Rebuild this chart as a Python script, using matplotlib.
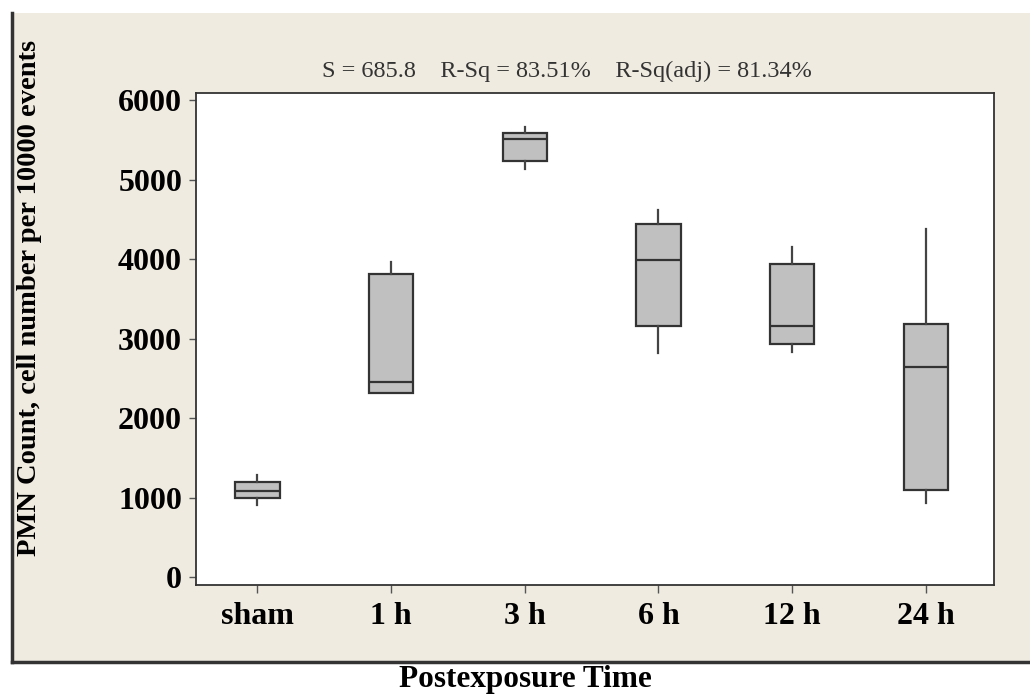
import matplotlib
matplotlib.use('Agg')
import matplotlib.pyplot as plt
from matplotlib.patches import Rectangle

# groups and five-number summaries
groups = ['sham', '1 h', '3 h', '6 h', '12 h', '24 h']
whisk_low = [906, 2314, 5132, 2818, 2830, 931]
q1 = [990, 2314, 5233, 3157, 2931, 1094]
median = [1082, 2453, 5509, 3987, 3157, 2642]
q3 = [1195, 3811, 5585, 4440, 3937, 3182]
whisk_high = [1283, 3962, 5660, 4616, 4151, 4377]

stats_text = 'S = 685.8    R-Sq = 83.51%    R-Sq(adj) = 81.34%'

plt.rcParams['font.family'] = ['Liberation Serif', 'DejaVu Serif']

fig = plt.figure(figsize=(10.30, 6.98), dpi=100)
fig.patch.set_facecolor('white')

# beige panel behind the plot with dark left/bottom border
W, H = 1030, 698
fig.add_artist(Rectangle((12 / W, 1 - 662 / H), 1 - 12 / W, (662 - 13) / H,
                         transform=fig.transFigure, facecolor='#efebe1',
                         edgecolor='none', zorder=-5))
fig.add_artist(plt.Line2D([12 / W, 12 / W], [1 - 662 / H, 1 - 13 / H],
                          transform=fig.transFigure, color='#333333', lw=2.5,
                          zorder=-4))
fig.add_artist(plt.Line2D([12 / W, 1], [1 - 662 / H, 1 - 662 / H],
                          transform=fig.transFigure, color='#333333', lw=2.5,
                          zorder=-4))

ax = fig.add_axes([196 / W, 1 - 585 / H, 798 / W, (585 - 93) / H])
ax.set_facecolor('white')

bstats = []
for i in range(len(groups)):
    bstats.append({'label': groups[i], 'whislo': whisk_low[i], 'q1': q1[i],
                   'med': median[i], 'q3': q3[i], 'whishi': whisk_high[i],
                   'fliers': []})

pos = list(range(1, len(groups) + 1))
ax.bxp(bstats, positions=pos, widths=0.33, showcaps=False, showfliers=False,
       patch_artist=True,
       boxprops=dict(facecolor='#c0c0c0', edgecolor='#333333', linewidth=1.6),
       medianprops=dict(color='#333333', linewidth=1.6),
       whiskerprops=dict(color='#444444', linewidth=1.6))

ax.set_xlim(0.54, 6.51)
ax.set_ylim(-100, 6090)
ax.set_yticks([0, 1000, 2000, 3000, 4000, 5000, 6000])
ax.set_xticks(pos)
ax.set_xticklabels(groups)

for lab in ax.get_xticklabels() + ax.get_yticklabels():
    lab.set_fontweight('bold')
    lab.set_fontsize(23)
ax.tick_params(axis='y', length=5, width=1, color='#555555', pad=5)
ax.tick_params(axis='x', length=6, width=1, color='#555555', pad=6)

for sp in ax.spines.values():
    sp.set_color('#333333')
    sp.set_linewidth(1.3)

fig.text(567 / W, 1 - 71 / H, stats_text, ha='center', va='center',
         fontsize=17.5, color='#333333')
fig.text(30 / W, 1 - 298 / H, 'PMN Count, cell number per 10000 events',
         rotation=90, ha='center', va='center', fontsize=20.5, fontweight='bold')
fig.text(525 / W, 1 - 680 / H, 'Postexposure Time', ha='center', va='center',
         fontsize=22.5, fontweight='bold')

fig.savefig('out.png', dpi=100)
